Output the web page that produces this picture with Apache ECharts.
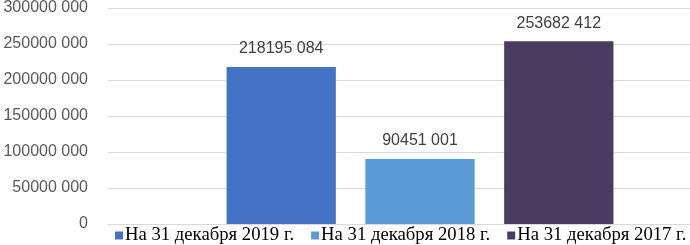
<!DOCTYPE html>
<html>
<head>
<meta charset="utf-8">
<script src="https://cdn.jsdelivr.net/npm/echarts@6/dist/echarts.min.js"></script>
<style>
  html, body { margin: 0; padding: 0; background: #fff; overflow: hidden; }
  /* the original chart is cropped on the right, so the canvas is wider than the window */
  #chart { width: 732px; height: 245px; }
</style>
</head>
<body>
<div id="chart"></div>
<script>
var categories = [''];
var seriesNames = ['На 31 декабря 2019 г.', 'На 31 декабря 2018 г.', 'На 31 декабря 2017 г.'];
var seriesValues = [218195084, 90451001, 253682412];
var seriesColors = ['#4472c4', '#5b9bd5', '#4b3b63'];
var yTicks = [0, 50000000, 100000000, 150000000, 200000000, 250000000, 300000000];

// 218195084 -> "218195 084"
function fmt(v) {
    var s = String(Math.round(v));
    if (s.length <= 3) return s;
    return s.slice(0, s.length - 3) + ' ' + s.slice(s.length - 3);
}

var chart = echarts.init(document.getElementById('chart'));
chart.setOption({
    animation: false,
    grid: { left: 108, right: 0, top: 6, bottom: 21 },
    legend: {
        data: seriesNames,
        left: 110,
        top: 221,
        width: 620,
        itemWidth: 8,
        itemHeight: 8,
        itemGap: 17,
        icon: 'rect',
        textStyle: { fontFamily: 'Liberation Serif', fontSize: 18.7, color: '#000', padding: [0, 0, 0, -3] }
    },
    xAxis: {
        type: 'category',
        data: categories,
        axisLine: { lineStyle: { color: '#d9d9d9' } },
        axisTick: { show: false },
        axisLabel: { show: false }
    },
    yAxis: {
        type: 'value',
        min: yTicks[0],
        max: yTicks[yTicks.length - 1],
        interval: 50000000,
        axisLine: { show: false },
        axisTick: { show: false },
        splitLine: { lineStyle: { color: '#d9d9d9' } },
        axisLabel: {
            margin: 20,
            fontFamily: 'Liberation Sans',
            fontSize: 16,
            color: '#595959',
            formatter: fmt
        }
    },
    series: seriesNames.map(function (name, i) {
        var data = categories.map(function () { return seriesValues[i]; });
        return {
            name: name,
            type: 'bar',
            data: data,
            barGap: '27%',
            barCategoryGap: '38%',
            itemStyle: { color: seriesColors[i] },
            label: {
                show: true,
                position: 'top',
                distance: 10,
                fontFamily: 'Liberation Sans',
                fontSize: 16,
                color: '#404040',
                formatter: function (p) { return fmt(p.value); }
            }
        };
    })
});
</script>
</body>
</html>
